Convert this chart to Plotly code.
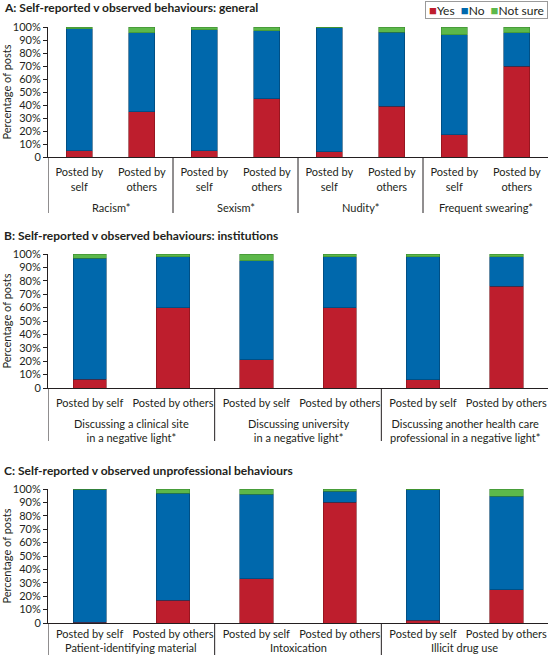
import plotly.graph_objects as go

# ---------------- data ----------------
posters = ["Posted by self", "Posted by others"]

a_groups = ["Racism*", "Sexism*", "Nudity*", "Frequent swearing*"]
a_yes = [5, 35, 5, 45, 4, 39, 17, 70]
a_no = [93.5, 60.5, 93, 52, 95.5, 57, 77, 25.5]
a_ns = [1.5, 4.5, 2, 3, 0.5, 4, 6, 4.5]

b_groups = ["Discussing a clinical site<br>in a negative light*",
            "Discussing university<br>in a negative light*",
            "Discussing another health care<br>professional in a negative light*"]
b_yes = [6.5, 60, 21, 60, 6, 76]
b_no = [90.5, 38, 74, 38, 92, 22]
b_ns = [3, 2, 5, 2, 2, 2]

c_groups = ["Patient-identifying material", "Intoxication", "Illicit drug use"]
c_yes = [0.5, 17, 33, 90, 2, 25]
c_no = [99.5, 80, 63, 8.5, 97.5, 69.5]
c_ns = [0, 3, 4, 1.5, 0.5, 5.5]

y_tickvals = [0, 10, 20, 30, 40, 50, 60, 70, 80, 90, 100]
y_ticktext = ["0", "10%", "20%", "30%", "40%", "50%", "60%", "70%", "80%", "90%", "100%"]

series_names = ["Yes", "No", "Not sure"]
colors = ["#BE1E2D", "#0068AC", "#5CB84A"]
line_colors = ["#7d1018", "#00406b", "#3b8a2e"]

titles = ["A: Self-reported v observed behaviours: general",
          "B: Self-reported v observed behaviours: institutions",
          "C: Self-reported v observed unprofessional behaviours"]

FONT = "Lato"
TXT = "#231f20"
FS = 11
W, H = 555, 655


def py(p):
    return 1 - p / H


fig = go.Figure()

# (groups, values, axis suffix, (plot top px, plot bottom px), bar width,
#  inner labels, inner-label standoff, group-label centre px, divider end px)
panels = [
    (a_groups, [a_yes, a_no, a_ns], "", (27, 157), 0.42,
     ["Posted by<br>self", "Posted by<br>others"], 5, 208, 213),
    (b_groups, [b_yes, b_no, b_ns], "2", (254, 388), 0.40, posters, 5, 430, 441),
    (c_groups, [c_yes, c_no, c_ns], "3", (489, 623), 0.40, posters, 1, 647, 655),
]

for pi, (groups, vals, sfx, (top, bot), bw, plabels, stand, gy, dend) in enumerate(panels):
    n = len(groups) * len(posters)
    xs = list(range(n))
    inner = [p for _ in groups for p in plabels]
    for si in range(3):
        fig.add_trace(go.Bar(
            x=xs, y=vals[si], name=series_names[si],
            marker=dict(color=colors[si], line=dict(color=line_colors[si], width=0.6)),
            width=bw, showlegend=False,
            xaxis="x" + sfx, yaxis="y" + sfx,
        ))
    fig.layout["xaxis" + sfx] = dict(
        domain=[48 / W, 548 / W], anchor="y" + sfx, range=[-0.5, n - 0.5],
        tickvals=xs, ticktext=inner, ticklabelstandoff=stand,
        showline=True, linecolor="#231f20", linewidth=1,
        ticks="", tickangle=0, tickfont=dict(size=FS, color=TXT, family=FONT),
        showgrid=False, zeroline=False, automargin=False,
    )
    fig.layout["yaxis" + sfx] = dict(
        domain=[py(bot), py(top)], anchor="x" + sfx, range=[0, 100],
        tickvals=y_tickvals, ticktext=y_ticktext,
        showline=True, linecolor="#231f20", linewidth=1,
        ticks="outside", ticklen=4, tickcolor="#231f20",
        tickfont=dict(size=FS, color=TXT, family=FONT),
        showgrid=False, zeroline=False, automargin=False,
        title=dict(text="Percentage of posts", font=dict(size=FS, color=TXT, family=FONT), standoff=4),
    )
    xref = "x" + sfx
    for gi, g in enumerate(groups):
        left = gi * len(posters) - 0.5
        fig.add_shape(type="line", xref=xref, yref="paper",
                      x0=left, x1=left, y0=py(bot), y1=py(dend),
                      line=dict(color="#231f20", width=1))
        fig.add_annotation(
            text=g, xref=xref, yref="paper", x=left + len(posters) / 2, y=py(gy),
            xanchor="center", yanchor="middle", showarrow=False,
            font=dict(size=FS, color=TXT, family=FONT),
        )
    fig.add_annotation(
        text="<b>" + titles[pi] + "</b>", xref="paper", yref="paper",
        x=2 / W, y=py(top - 19), xanchor="left", yanchor="middle", showarrow=False,
        font=dict(size=12, color=TXT, family=FONT),
    )

legend_txt = "\u00a0\u00a0".join(
    '<span style="color:%s;font-size:13px">■</span>%s' % (c, n)
    for c, n in zip(colors, series_names)
)
fig.add_annotation(
    text="\u00a0" + legend_txt + "\u00a0", xref="paper", yref="paper", x=548 / W, y=py(1),
    xanchor="right", yanchor="top", showarrow=False,
    bordercolor="#9a9a9a", borderwidth=1, borderpad=0, bgcolor="white",
    font=dict(size=12, color=TXT, family=FONT),
)

fig.update_layout(
    width=W, height=H, barmode="stack",
    margin=dict(l=0, r=0, t=0, b=0, autoexpand=False),
    plot_bgcolor="white", paper_bgcolor="white",
    font=dict(family=FONT, color=TXT, size=FS),
    showlegend=False,
)

fig.write_html("out.html", config={"displayModeBar": False},
               post_script="document.body.style.margin='0';")
